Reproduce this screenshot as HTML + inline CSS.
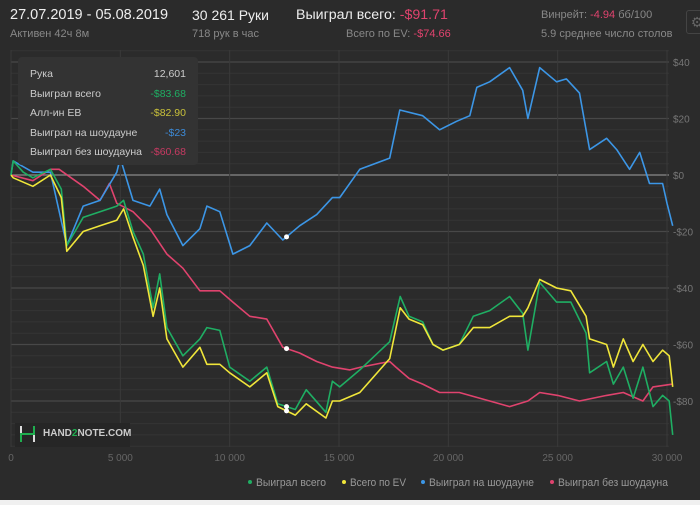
<!DOCTYPE html>
<html><head><meta charset="utf-8"><style>
body{margin:0;width:700px;height:505px;background:#f0f0f0;overflow:hidden;font-family:"Liberation Sans","DejaVu Sans",sans-serif}
#card{position:absolute;left:0;top:0;width:700px;height:500px;background:#2b2b2b}
.t{position:absolute;white-space:nowrap}
</style></head><body>
<div id="card">
<div class="t" style="left:10px;top:7px;font-size:14.5px;color:#eee">27.07.2019 - 05.08.2019</div>
<div class="t" style="left:10px;top:28px;font-size:11px;color:#888">Активен 42ч 8м</div>
<div class="t" style="left:192px;top:7px;font-size:14px;color:#eee">30 261 Руки</div>
<div class="t" style="left:192px;top:28px;font-size:11px;color:#888">718 рук в час</div>
<div class="t" style="left:296px;top:7px;font-size:14.2px;color:#eee">Выиграл всего: <span style="color:#e0436e">-$91.71</span></div>
<div class="t" style="left:346px;top:28px;font-size:11px;color:#888">Всего по EV: <span style="color:#e0436e">-$74.66</span></div>
<div class="t" style="left:541px;top:9px;font-size:11px;color:#888">Винрейт: <span style="color:#e0436e">-4.94</span> бб/100</div>
<div class="t" style="left:541px;top:28px;font-size:11px;color:#888">5.9 среднее число столов</div>
<div class="t" style="left:686px;top:10px;width:20px;height:22px;border:1px solid #444;border-radius:3px;color:#666;font-size:14px;line-height:22px;text-align:center">⚙</div>
<svg id="chart" width="700" height="500" style="position:absolute;left:0;top:0"></svg>
<div style="position:absolute;left:18px;top:57px;width:180px;height:108px;background:#333;border-radius:4px;font-size:10.5px;color:#ccc">
<div class="t" style="left:12px;top:11px">Рука</div><div class="t" style="right:12px;top:11px">12,601</div>
<div class="t" style="left:12px;top:31px">Выиграл всего</div><div class="t" style="right:12px;top:31px;color:#1fae63">-$83.68</div>
<div class="t" style="left:12px;top:50px">Алл-ин EB</div><div class="t" style="right:12px;top:50px;color:#c9c13a">-$82.90</div>
<div class="t" style="left:12px;top:70px">Выиграл на шоудауне</div><div class="t" style="right:12px;top:70px;color:#3d8ad6">-$23</div>
<div class="t" style="left:12px;top:89px">Выиграл без шоудауна</div><div class="t" style="right:12px;top:89px;color:#c73a62">-$60.68</div>
</div>
<div style="position:absolute;left:15px;top:423px;width:115px;height:24px;background:#262626">
<div style="position:absolute;left:5px;top:3px;width:2px;height:7px;background:#ddd"></div>
<div style="position:absolute;left:18px;top:12px;width:2px;height:7px;background:#ddd"></div>
<div style="position:absolute;left:5px;top:12px;width:2px;height:7px;background:#1fae4f"></div>
<div style="position:absolute;left:18px;top:3px;width:2px;height:7px;background:#1fae4f"></div>
<div style="position:absolute;left:5px;top:10px;width:15px;height:2px;background:#1fae4f"></div>
<div class="t" style="left:28px;top:5px;font-size:10px;font-weight:bold;color:#ccc">HAND<span style="color:#1fae4f">2</span>NOTE.COM</div>
</div>
</div>
<script>
const xTicks=[0,5000,10000,15000,20000,25000,30000];
const xTickLabels=["0","5 000","10 000","15 000","20 000","25 000","30 000"];
const yTicks=[40,20,0,-20,-40,-60,-80];
const yTickLabels=["$40","$20","$0","-$20","-$40","-$60","-$80"];
const seriesNames=["Выиграл всего","Всего по EV","Выиграл на шоудауне","Выиграл без шоудауна"];
const seriesColors=["#1fae63","#f0e63a","#3c96e6","#e0436e"];
const blueHands=[0,100,1000,1800,2550,3300,4070,4840,5000,5580,6350,6800,7130,7860,8640,8960,9550,10150,10920,11700,12430,13200,13980,14700,15030,15950,17320,17780,18830,19600,20380,20980,21300,21890,22800,23400,23640,24180,24950,25400,26000,26460,27240,27700,28290,28750,29200,29800,30000,30261];
const blueVals=[0,5,1,1,-25,-11,-9,1,6,-9,-11,-5,-14,-25,-19,-11,-13,-28,-25,-17,-23,-18,-14,-8,-8,2,6,23,21,16,19,21,31,33,38,30,20,38,33,34,29,9,13,9,2,8,-3,-3,-10,-18];
const greenHands=[0,100,560,1000,1800,2300,2550,3300,4070,4840,5150,5580,6050,6500,6800,7130,7860,8640,8960,9550,10000,10920,11700,12200,13000,13500,14400,14700,15030,15950,17320,17800,18200,18830,19300,19750,20500,21140,21890,22800,23400,23640,24180,24950,25600,26300,26460,27240,27550,28000,28450,28900,29360,29800,30100,30261];
const greenVals=[0,5,1,-1,2,-5,-25,-15,-13,-11,-9,-20,-28,-47,-35,-54,-64,-58,-54,-55,-68,-73,-68,-81,-83,-76,-84,-73,-75,-69,-59,-43,-50,-52,-60,-62,-60,-50,-48,-43,-49,-62,-38,-45,-45,-56,-70,-66,-74,-68,-79,-68,-82,-78,-80,-92];
const yellowHands=[0,100,1000,1800,2300,2550,3300,4070,4840,5150,5580,6050,6500,6800,7130,7860,8640,8960,9550,10000,10920,11700,12200,13000,13500,14400,14700,15030,15950,17320,17800,18200,18830,19300,19750,20500,21140,21890,22800,23400,23640,24180,24950,25600,26300,26460,27240,27550,28000,28450,28900,29360,29800,30100,30261];
const yellowVals=[0,-1,-4,0,-8,-27,-20,-18,-16,-12,-22,-32,-50,-40,-58,-68,-61,-67,-67,-70,-75,-70,-82,-85,-81,-86,-80,-80,-77,-65,-47,-51,-53,-60,-62,-60,-54,-54,-50,-50,-47,-37,-40,-41,-50,-58,-60,-68,-58,-66,-60,-66,-62,-64,-75];
const pinkHands=[0,1000,1800,2200,3300,4070,4500,4840,5580,6350,7130,7860,8640,9550,10150,10920,11700,12430,13200,13980,14700,15500,16000,17320,17600,18200,18830,19600,20500,21890,22800,23640,24180,25000,26000,27240,28000,28900,29360,30261];
const pinkVals=[0,-2,2,2,-4,-9,-3,-10,-13,-19,-28,-33,-41,-41,-45,-50,-51,-61,-63,-66,-68,-69,-68,-66,-68,-72,-74,-77,-77,-80,-82,-80,-77,-78,-80,-78,-77,-80,-75,-74];
const hoverHand=12601;

const NS="http://www.w3.org/2000/svg";
const svg=document.getElementById('chart');
const X0=11,X1=667,Y0=175,PPD=2.825;
function xs(h){return X0+(h/30000)*(X1-X0);}
function ys(v){return Y0-v*PPD;}
function mk(tag,attrs){const e=document.createElementNS(NS,tag);for(const k in attrs)e.setAttribute(k,attrs[k]);svg.appendChild(e);return e;}
for(let v=44;v>=-96;v-=4){
  const major=v%20===0;
  const l=mk('line',{x1:X0,x2:669,y1:ys(v),y2:ys(v),stroke:v===0?'#8a8a8a':(major?'#484848':'#353535'),'stroke-width':major?1.3:1});
  
  
}
xTicks.forEach((t,i)=>{
  const l=mk('line',{x1:xs(t),x2:xs(t),y1:50,y2:447,stroke:'#3a3a3a','stroke-width':1});
  
  
  const tx=mk('text',{x:xs(t),y:461,fill:'#666','font-size':'10','text-anchor':'middle','font-family':'Liberation Sans, sans-serif'});
  tx.textContent=xTickLabels[i];
  
  
});
yTicks.forEach((t,i)=>{
  const tx=mk('text',{x:673,y:ys(t)+4,fill:'#777','font-size':'10','font-family':'Liberation Sans, sans-serif'});
  tx.textContent=yTickLabels[i];
  
  
});
function interp(H,V,h){for(let i=1;i<H.length;i++){if(h<=H[i]){const f=(h-H[i-1])/(H[i]-H[i-1]);return V[i-1]+f*(V[i]-V[i-1]);}}return V[V.length-1];}
const all=[[pinkHands,pinkVals,3,'line-no-showdown'],[blueHands,blueVals,2,'line-showdown'],[greenHands,greenVals,0,'line-total-won'],[yellowHands,yellowVals,1,'line-ev']];
all.forEach(([H,V,ci,name])=>{
  const p=mk('polyline',{points:H.map((h,i)=>xs(h).toFixed(1)+','+ys(V[i]).toFixed(1)).join(' '),fill:'none',stroke:seriesColors[ci],'stroke-width':1.6,'stroke-linejoin':'round'});
  
  
});
all.forEach(([H,V,ci])=>{
  const c=mk('circle',{cx:xs(hoverHand),cy:ys(interp(H,V,hoverHand)),r:2.5,fill:'#fff'});
  
  
});
const lx=[250,344,423,552];
const lw=[70,56,105,110];
seriesNames.forEach((n,i)=>{
  const c=mk('circle',{cx:lx[i],cy:482,r:2,fill:seriesColors[i]});
  
  
  const t=mk('text',{x:lx[i]+6,y:486,fill:'#999','font-size':'11','font-family':'Liberation Sans, sans-serif',textLength:lw[i],lengthAdjust:'spacingAndGlyphs'});
  t.textContent=n;
  
  
});
</script>
</body></html>
